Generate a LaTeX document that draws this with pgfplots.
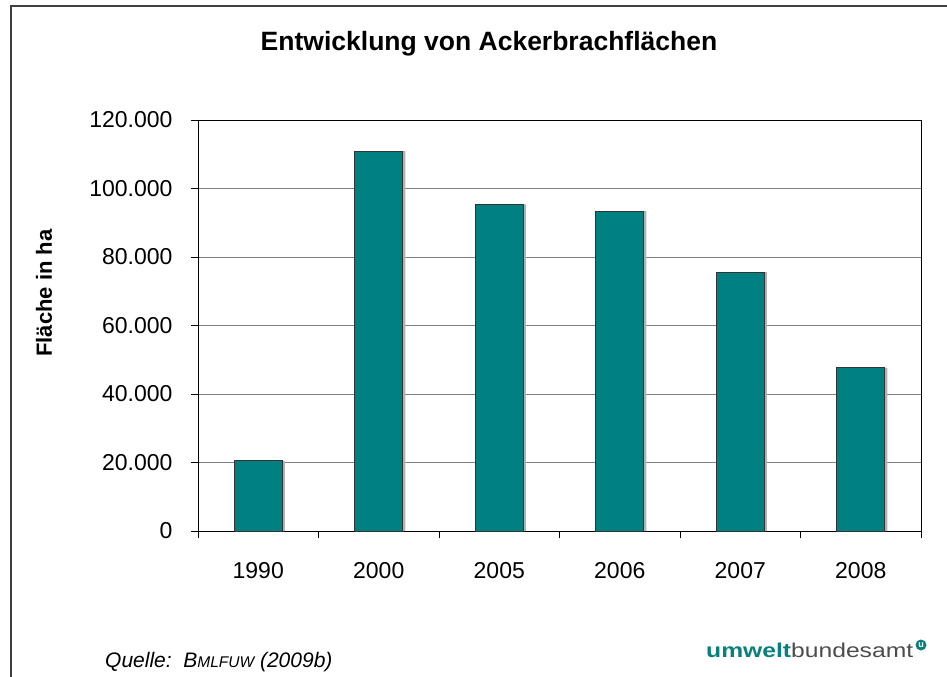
\documentclass[border=0pt]{standalone}
\usepackage{pgfplots}
\pgfplotsset{compat=1.18}
\usepackage{fontspec}
\setmainfont{Liberation Sans}
\definecolor{barteal}{HTML}{008080}
\definecolor{logoteal}{HTML}{0A807D}
\begin{document}
\begin{tikzpicture}[x=1bp,y=1bp]
\useasboundingbox (0,0) rectangle (947,-677);
\draw[line width=2bp, black!75] (11,-677) -- (11,-6) -- (947,-6);
\begin{axis}[
  at={(198bp,-531bp)}, anchor=south west,
  scale only axis, width=723bp, height=411bp,
  xmin=-0.5, xmax=5.5, ymin=0, ymax=120000,
  xtick={0,1,2,3,4,5}, xticklabels={1990,2000,2005,2006,2007,2008},
  minor xtick={-0.5,0.5,1.5,2.5,3.5,4.5,5.5},
  ytick={0,20000,40000,60000,80000,100000,120000},
  ymajorgrids, major grid style={gray, line width=1bp},
  tick align=outside, major tick length=7bp, minor tick length=7bp,
  tick pos=left,
  major x tick style={draw=none},
  tick style={black, line width=1bp},
  axis line style={black, line width=1bp},
  scaled y ticks=false,
  /pgf/number format/fixed,
  /pgf/number format/1000 sep={.},
  /pgf/number format/assume math mode=true,
  tick label style={font=\fontsize{23bp}{27bp}\selectfont},
  yticklabel style={xshift=-15bp},
  xticklabel style={yshift=-21bp},
]
\addplot[ybar, bar width=48bp, bar shift=2.5bp, fill=black!30, draw=none] coordinates {(0,20500) (1,110900) (2,95400) (3,93400) (4,75600) (5,47600)};
\addplot[ybar, bar width=48bp, bar shift=0bp, fill=barteal, draw=black!80, line width=1bp] coordinates {(0,20500) (1,110900) (2,95400) (3,93400) (4,75600) (5,47600)};
\end{axis}
\node[font=\bfseries\fontsize{26.5bp}{30bp}\selectfont] at (489,-44) {Entwicklung von Ackerbrachflächen};
\node[rotate=90, font=\bfseries\fontsize{22bp}{26bp}\selectfont] at (44,-293) {Fläche in ha};
\node[anchor=base west, inner sep=0, font=\itshape\fontsize{21bp}{24bp}\selectfont] at (105,-667) {Quelle:\ \ B{\fontsize{15.5bp}{18bp}\selectfont MLFUW} (2009b)};
\node[anchor=base west, inner sep=0] at (706,-657) {\resizebox{207bp}{14.5bp}{\textcolor{logoteal}{\bfseries umwelt}\textcolor{black!70}{bundesamt}}};
\fill[logoteal] (921,-645) circle (5.5);
\node[white, inner sep=0, font=\bfseries\fontsize{9bp}{9bp}\selectfont] at (921,-645.5) {u};
\end{tikzpicture}
\end{document}
